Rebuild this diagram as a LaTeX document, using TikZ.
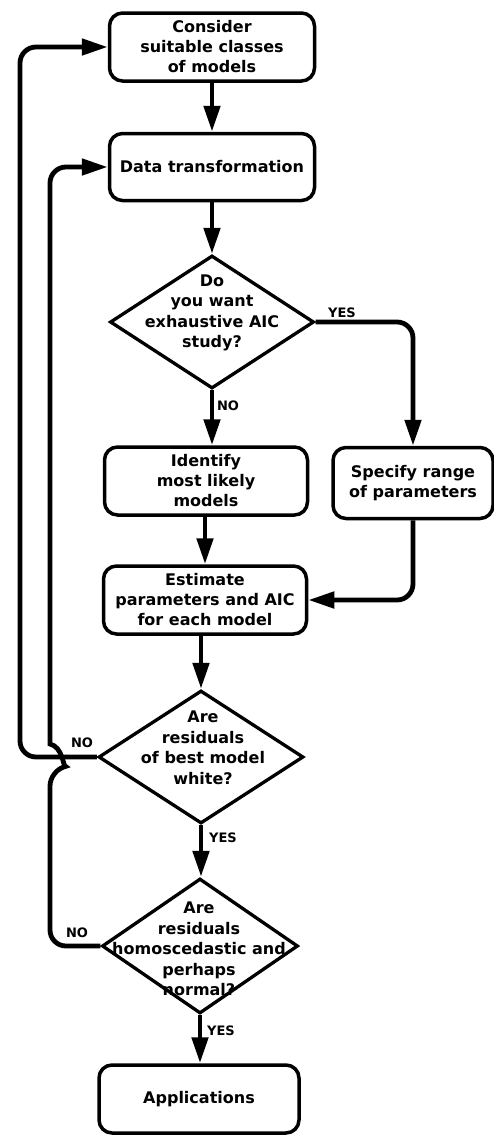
\documentclass[tikz,border=0pt]{standalone}
\usepackage{fontspec}
\setmainfont{DejaVu Sans}
\usetikzlibrary{arrows.meta,shapes.geometric}
\begin{document}
\begin{tikzpicture}[x=1pt,y=1pt,
  box/.style={draw, line width=3.5pt, rounded corners=13pt, align=center,
    font=\bfseries\fontsize{16}{20}\selectfont, inner sep=0pt},
  dia/.style={draw, diamond, line width=3.3pt, inner sep=0pt},
  dtext/.style={align=center, font=\bfseries\fontsize{16}{20.5}\selectfont, inner sep=0pt},
  conn/.style={line width=4.8pt, -{Triangle[length=26pt,width=16pt]}},
  lbl/.style={font=\bfseries\fontsize{13}{15}\selectfont, inner sep=0pt}]
\useasboundingbox (0,0) rectangle (493,-1136);

% boxes
\node[box, minimum width=205, minimum height=68] (c) at (212,-47) {Consider\\suitable classes\\of models};
\node[box, minimum width=205, minimum height=67] (dt) at (212,-167) {Data transformation};
\node[box, minimum width=203, minimum height=68] (id) at (206,-481) {Identify\\most likely\\models};
\node[box, minimum width=160, minimum height=71] (sp) at (413,-483) {Specify range\\of parameters};
\node[box, minimum width=203, minimum height=68] (es) at (205,-600) {Estimate\\parameters and AIC\\for each model};
\node[box, minimum width=200, minimum height=68] (ap) at (199,-1099) {Applications};

% diamonds
\node[dia, minimum width=204, minimum height=133] (d1) at (212,-322) {};
\node[dtext] (t1) at (212,-313) {Do\\you want\\exhaustive AIC\\study?};
\node[dia, minimum width=205, minimum height=133] (d2) at (201,-757) {};
\node[dtext] (t2) at (203,-748) {Are\\residuals\\of best model\\white?};
\node[dia, minimum width=196, minimum height=135] (d3) at (200,-946) {};
\node[dtext] (t3) at (199,-949) {Are\\residuals\\homoscedastic and\\perhaps\\normal?};

% labels
\node[lbl] (yes1) at (342,-313) {YES};
\node[lbl] (no1) at (228,-406) {NO};
\node[lbl] (no2) at (82,-743) {NO};
\node[lbl] (yes2) at (223,-838) {YES};
\node[lbl] (no3) at (77,-933) {NO};
\node[lbl] (yes3) at (221,-1031) {YES};

% connectors
\draw[conn] (c) -- (dt);
\draw[conn] (dt) -- (d1);
\draw[conn] (d1.south) -- (d1.south |- id.north);
\draw[conn, rounded corners=16] (d1.east) -| (sp.north);
\draw[conn] (id.south -| es.north) -- (es.north);
\draw[conn, rounded corners=16] (sp.south) |- (es.east);
\draw[conn] (es.south -| d2.north) -- (d2.north);
\draw[conn] (d2.south) -- (d2.south |- d3.north);
\draw[conn] (d3.south) -- (d3.south |- ap.north);

% feedback loops
\draw[conn, rounded corners=16] (d2.west) -- (20,-757) -- (20,-47) -- (c.west);
\draw[conn, rounded corners=16] (d3.west) -- (50,-946) -- (50,-770)
  [sharp corners] .. controls (63,-767) and (63,-747) .. (50,-744)
  [rounded corners=16] -- (50,-167) -- (dt.west);
\end{tikzpicture}
\end{document}
